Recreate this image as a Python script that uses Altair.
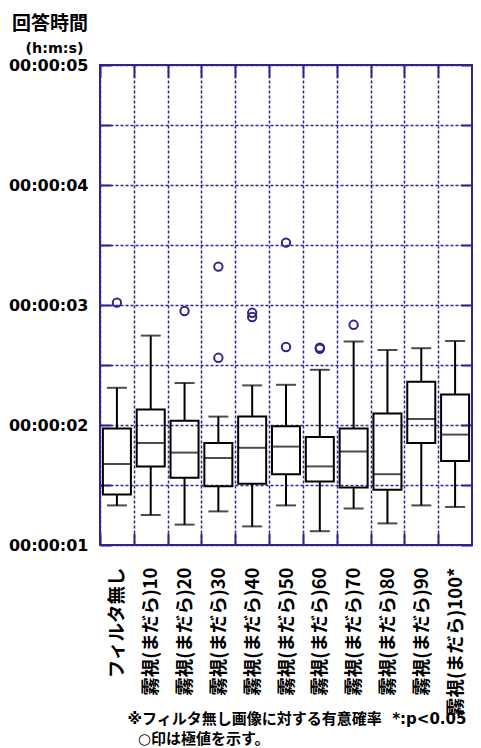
import altair as alt
import pandas as pd

PURPLE = "#34238c"
LATIN_JP = "DejaVu Sans, Noto Sans CJK JP"

categories = ["フィルタ無し", "霧視(まだら)10", "霧視(まだら)20", "霧視(まだら)30",
              "霧視(まだら)40", "霧視(まだら)50", "霧視(まだら)60", "霧視(まだら)70",
              "霧視(まだら)80", "霧視(まだら)90", "霧視(まだら)100*"]
whisker_low = [1.33, 1.25, 1.17, 1.28, 1.155, 1.33, 1.115, 1.305, 1.18, 1.33, 1.317]
q1 = [1.42, 1.655, 1.56, 1.49, 1.51, 1.59, 1.53, 1.48, 1.46, 1.85, 1.70]
median = [1.675, 1.85, 1.77, 1.725, 1.81, 1.82, 1.655, 1.78, 1.59, 2.05, 1.92]
q3 = [1.97, 2.13, 2.035, 1.85, 2.07, 1.99, 1.90, 1.97, 2.095, 2.36, 2.255]
whisker_high = [2.31, 2.745, 2.35, 2.07, 2.33, 2.335, 2.46, 2.695, 2.625, 2.64, 2.70]

outlier_cat = ["フィルタ無し", "霧視(まだら)20", "霧視(まだら)30", "霧視(まだら)30",
               "霧視(まだら)40", "霧視(まだら)40", "霧視(まだら)50", "霧視(まだら)50",
               "霧視(まだら)60", "霧視(まだら)60", "霧視(まだら)70"]
outlier_val = [3.02, 2.95, 2.56, 3.32, 2.935, 2.90, 2.65, 3.52, 2.645, 2.635, 2.835]

y_tick_values = [1, 1.5, 2, 2.5, 3, 3.5, 4, 4.5, 5]
footnote = ["※フィルタ無し画像に対する有意確率\u00a0\u00a0*:p<0.05",
            "\u200b\u00a0\u00a0○印は極値を示す。"]

box_df = pd.DataFrame({"cat": categories, "lo": whisker_low, "q1": q1,
                       "med": median, "q3": q3, "hi": whisker_high})
out_df = pd.DataFrame({"cat": outlier_cat, "val": outlier_val})

x_scale = alt.Scale(type="band", domain=categories, paddingInner=0, paddingOuter=0)
y_scale = alt.Scale(domain=[1, 5], nice=False, zero=False)

x_axis = alt.Axis(
    orient="bottom", tickBand="extent", grid=True, gridDash=[3, 2], gridColor=PURPLE,
    gridWidth=1.5, gridOpacity=1, ticks=True, tickSize=12, tickColor=PURPLE, tickWidth=2,
    offset=-12, domain=False, labelAngle=-90, labelFont="Noto Sans CJK JP",
    labelFontSize=18.5, labelFontWeight="bold", labelColor="black", labelPadding=22,
    title=footnote, titleFont=LATIN_JP, titleFontSize=15, titleFontWeight="bold",
    titleColor="black", titleAlign="left", titleAnchor="start", titleBaseline="top",
    titleX=27, titleY=178, titleLineHeight=20,
)
y_axis = alt.Axis(
    values=y_tick_values,
    labelExpr="datum.value % 1 == 0 ? '00:00:0' + datum.value : ''",
    labelOverlap=False, grid=True, gridDash=[3, 2], gridColor=PURPLE, gridWidth=1.5,
    gridOpacity=1, ticks=True, tickSize=11, tickColor=PURPLE, tickWidth=2,
    offset=-11, domain=False, labelPadding=12, labelFont="DejaVu Sans",
    labelFontSize=16, labelFontWeight="bold", labelColor="black",
    title="(h:m:s)", titleAngle=0, titleAlign="center", titleBaseline="alphabetic",
    titleX=-57, titleY=-13, titleFont="DejaVu Sans", titleFontSize=14.3,
    titleFontWeight="bold", titleColor="black",
)

x_enc = alt.X("cat:N", scale=x_scale, sort=categories, axis=x_axis)

def yq(field):
    return alt.Y(f"{field}:Q", scale=y_scale, axis=y_axis)

base = alt.Chart(box_df)

lower = base.mark_rule(color="black", strokeWidth=2).encode(x=x_enc, y=yq("lo"), y2="q1:Q")
upper = base.mark_rule(color="black", strokeWidth=2).encode(x=x_enc, y=yq("q3"), y2="hi:Q")
box = base.mark_bar(fillOpacity=0, stroke="black", strokeWidth=2, size=28).encode(
    x=x_enc, y=yq("q1"), y2="q3:Q")
med = base.mark_tick(color="black", thickness=2, size=29).encode(x=x_enc, y=yq("med"))
cap_lo = base.mark_tick(color="black", thickness=2, size=20).encode(x=x_enc, y=yq("lo"))
cap_hi = base.mark_tick(color="black", thickness=2, size=20).encode(x=x_enc, y=yq("hi"))
outl = alt.Chart(out_df).mark_point(shape="circle", filled=False, size=70,
                                    strokeWidth=2, color=PURPLE, opacity=1).encode(
    x=x_enc, y=yq("val"))

main = alt.layer(lower, upper, box, med, cap_lo, cap_hi, outl)

frame = base.mark_tick(opacity=0).encode(
    x=alt.X("cat:N", scale=x_scale, sort=categories,
            axis=alt.Axis(orient="top", tickBand="extent", grid=False, labels=False,
                          domain=False, ticks=True, tickSize=12, tickColor=PURPLE,
                          tickWidth=2, offset=-12, title=None)),
    y=alt.Y("med:Q", scale=y_scale,
            axis=alt.Axis(orient="right", values=y_tick_values, grid=False, labels=False,
                          domain=False, ticks=True, tickSize=11, tickColor=PURPLE,
                          tickWidth=2, offset=-11, title=None)),
)

chart = alt.layer(main, frame).resolve_scale(x="independent", y="independent").properties(
    width=372, height=480,
    autosize=alt.AutoSizeParams(type="none"),
    padding={"left": 92, "top": 57, "right": 1, "bottom": 203},
    title=alt.TitleParams(text="回答時間", anchor="start", frame="group", dx=-88,
                          font="Noto Sans CJK JP", fontSize=19, fontWeight="bold",
                          color="black", offset=-12, baseline="bottom"),
).configure_view(stroke=PURPLE, strokeWidth=2)

chart.save("out.html", embed_options={"renderer": "svg", "actions": False})
